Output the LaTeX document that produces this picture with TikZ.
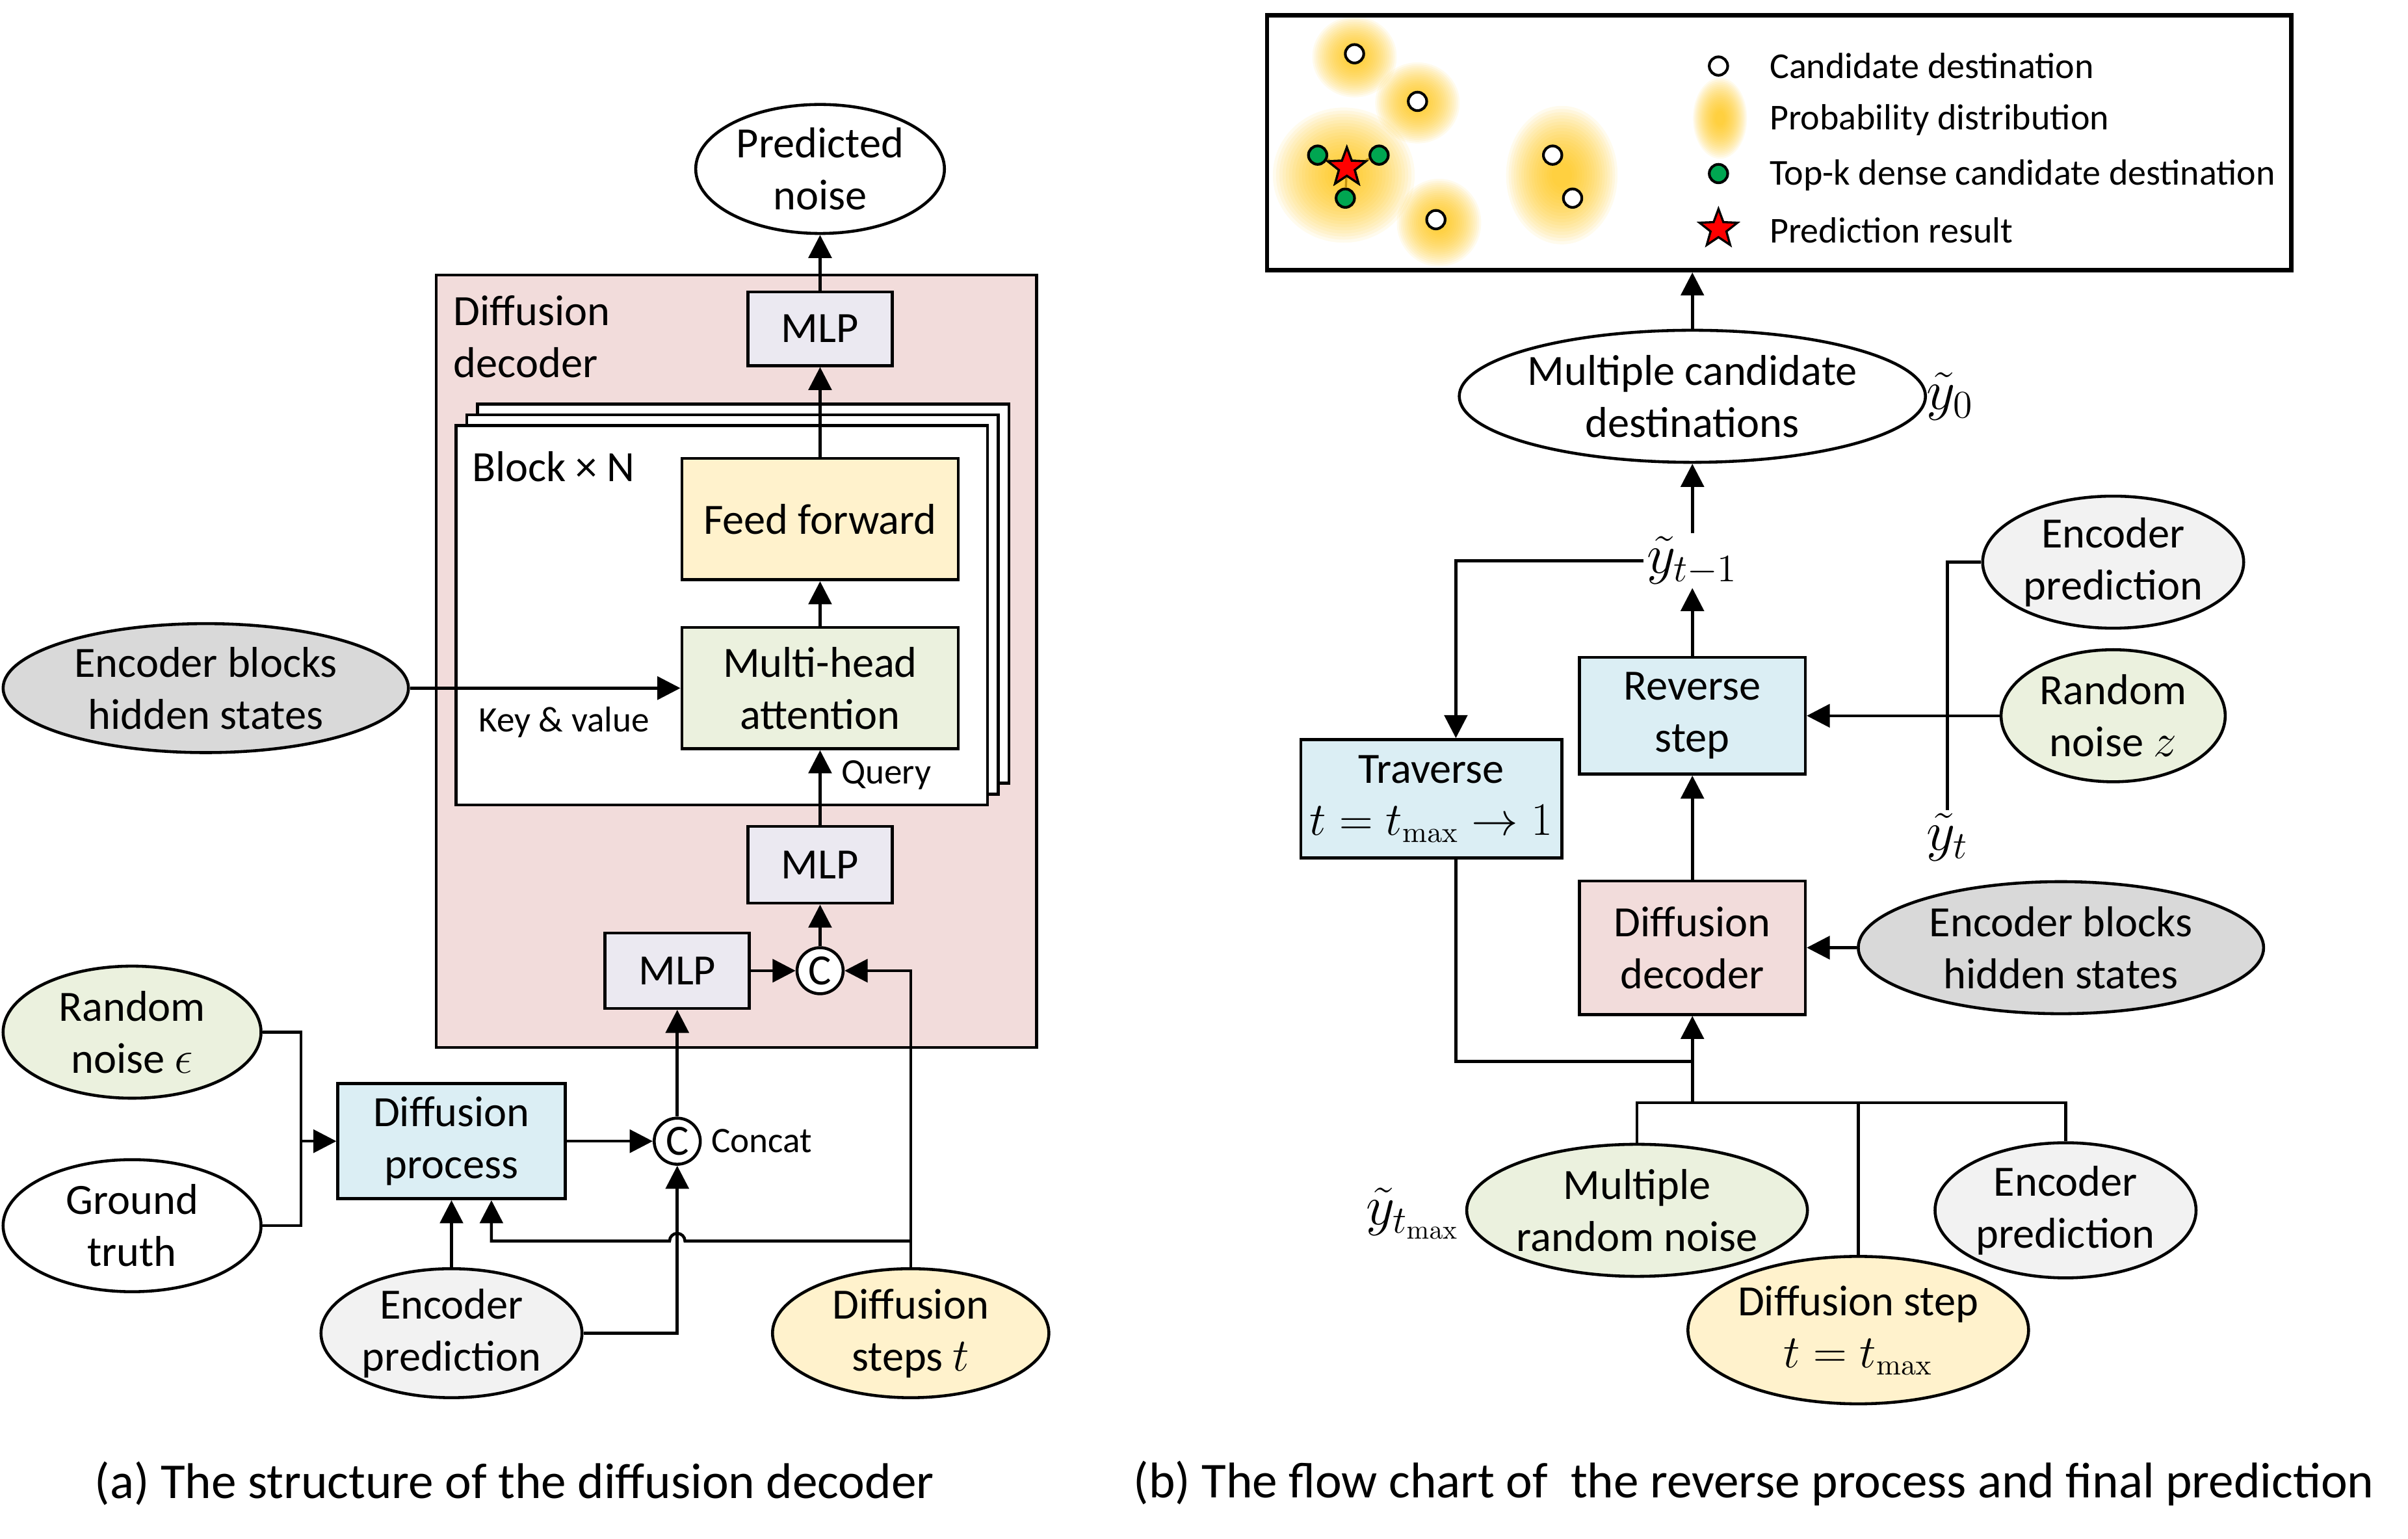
\documentclass[tikz,border=0pt]{standalone}
\usepackage[no-math]{fontspec}
\setmainfont{Carlito}
\usetikzlibrary{positioning,shapes.geometric,arrows.meta}

\definecolor{decpink}{HTML}{F2DCDB}
\definecolor{lav}{HTML}{EBE9F1}
\definecolor{ffyel}{HTML}{FFF2CC}
\definecolor{grn}{HTML}{EBF1DE}
\definecolor{blu}{HTML}{DBEEF4}
\definecolor{gry}{HTML}{D9D9D9}
\definecolor{ltgry}{HTML}{F2F2F2}
\definecolor{blobcol}{HTML}{FFC000}
\definecolor{dotgreen}{HTML}{00A651}
\definecolor{linkcol}{HTML}{C0900F}

\tikzset{
  base/.style={draw, line width=1.1pt, align=center, inner sep=0pt},
  blk/.style={base, rectangle},
  ell/.style={base, ellipse},
  arr/.style={line width=1.1pt, -{Triangle[length=0.3cm,width=0.3cm]}},
  wire/.style={line width=1.1pt},
  cat/.style={circle, draw, line width=1.1pt, fill=white, minimum size=0.6cm, inner sep=0pt},
  lbl/.style={font=\fontsize{13.3}{16}\selectfont},
  leg/.style={font=\fontsize{13.5}{16}\selectfont, anchor=west, inner sep=0pt},
  mathlbl/.style={font=\fontsize{20}{24}\selectfont, inner sep=1pt},
  capt/.style={font=\fontsize{18.6}{22}\selectfont},
  wdot/.style={circle, draw, line width=1pt, fill=white, minimum size=0.24cm, inner sep=0pt},
  gdot/.style={wdot, fill=dotgreen},
  rstar/.style={star, star points=5, star point ratio=2.4, draw, line width=0.8pt, fill=red, minimum size=0.52cm, inner sep=0pt}
}

\begin{document}
\begin{tikzpicture}[x=0.02cm, y=-0.02cm, font=\fontsize{16}{19.3}\selectfont]
\useasboundingbox (0,0) rectangle (1568,1002);

% (a) diffusion decoder
\node[blk, fill=decpink, minimum width=7.82cm, minimum height=10.06cm] (dec) at (479.5,430.5) {};
\node[anchor=north west, align=left, inner sep=0pt] (declbl) at (295,192) {Diffusion\\decoder};

% stacked blocks
\foreach \d in {14,7}
  \draw[line width=1.1pt, fill=white] (297+\d,277-\d) rectangle (643+\d,524-\d);
\node[blk, fill=white, minimum width=6.92cm, minimum height=4.94cm] (stack) at (470,400.5) {};
\node[anchor=west, inner sep=0pt] (blkn) at (307,304) {Block × N};

\node[blk, fill=ffyel, minimum width=3.6cm, minimum height=1.58cm] (ff) at (534,338) {Feed forward};
\node[blk, fill=grn, minimum width=3.6cm, minimum height=1.58cm] (mha) at (534,448) {Multi-head\\attention};
\node[blk, fill=lav, minimum width=1.88cm, minimum height=0.96cm] (mlp3) at (534,214) {MLP};
\node[ell, fill=white, minimum width=3.24cm, minimum height=1.68cm] (pnoise) at (534,110) {Predicted\\noise};
\node[blk, fill=lav, minimum width=1.88cm, minimum height=1cm] (mlp2) at (534,563) {MLP};
\node[blk, fill=lav, minimum width=1.88cm, minimum height=0.98cm] (mlp1) at (441,632) {MLP};
\node[cat] (cat2) at (534,632) {C};
\node[cat] (cat1) at (441,743) {C};
\node[lbl, anchor=west] (catlbl) at (cat1.east) {Concat};

\node[ell, fill=gry, minimum width=5.28cm, minimum height=1.68cm] (ehsA) at (134,448) {Encoder blocks\\hidden states};
\node[blk, fill=blu, minimum width=2.96cm, minimum height=1.5cm] (dproc) at (294,743) {Diffusion\\process};
\node[ell, fill=grn, minimum width=3.36cm, minimum height=1.72cm] (rnoise) at (86,672) {Random\\noise $\epsilon$};
\node[ell, fill=white, minimum width=3.36cm, minimum height=1.72cm] (gtruth) at (86,798) {Ground\\truth};
\node[ell, fill=ltgry, minimum width=3.4cm, minimum height=1.68cm] (encpA) at (294,868) {Encoder\\prediction};
\node[ell, fill=ffyel, minimum width=3.6cm, minimum height=1.68cm] (dsteps) at (593,868) {Diffusion\\steps $t$};

\draw[arr] (mlp3) -- (pnoise);
\draw[arr] (ff) -- (mlp3);
\draw[arr] (mha) -- (ff);
\draw[arr] (mlp2) -- node[lbl, right=4pt, pos=0.67] {Query} (mha);
\draw[arr] (ehsA) -- node[lbl, below=3pt, pos=0.57] {Key \& value} (mha);
\draw[arr] (cat2) -- (mlp2);
\draw[arr] (mlp1) -- (cat2);
\draw[arr] (cat1) -- (mlp1);
\draw[arr] (dproc) -- (cat1);
\draw[arr] (encpA) -- (dproc);
\draw[arr] (encpA.east) -| (cat1.south);
\coordinate (mg) at (196,743);
\draw[wire] (rnoise.east) -| (mg) |- (gtruth.east);
\draw[arr] (mg) -- (dproc);
\draw[arr] (dsteps.north) |- (cat2.east);
\coordinate (tj) at (593,808);
\draw[arr] (tj) -- (446,808) arc[start angle=0, end angle=180, radius=0.1cm]
  -| ([xshift=0.52cm]dproc.south);

% (b) reverse process
\foreach \cx/\cy/\rx/\ry in {882/37/25/24, 923/67/25/24, 875/114/42/40, 937/145/25/26, 1017/114/33/41, 1120/77/16/24}
  \foreach \s in {1.1,1.05,...,0.15}
    \fill[blobcol, opacity=0.07] (\cx,\cy) ellipse ({\s*\rx} and {\s*\ry});
\node[draw, line width=1.6pt, minimum width=13.34cm, minimum height=3.32cm] (res) at (1158.5,93) {};
\node[wdot] (c1) at (882,35) {};
\node[wdot] (c2) at (923,66) {};
\node[wdot] (c3) at (1011,101) {};
\node[wdot] (c4) at (1024,129) {};
\node[wdot] (c5) at (935,143) {};
\node[gdot] (g1) at (858,101) {};
\node[gdot] (g2) at (898,101) {};
\node[gdot] (g3) at (876,129) {};
\node[rstar] (best) at (877,109) {};
\foreach \g in {g1,g2,g3}
  \draw[linkcol, line width=0.8pt] (\g) -- (best);
\node[rstar] (best) at (877,109) {};
\node[wdot] (lc) at (1119,43) {};
\node[gdot] (lg) at (1119,113) {};
\node[rstar] (ls) at (1119,149) {};
\node[leg] (t1) at (1152,43) {Candidate destination};
\node[leg] (t2) at (1152,78) {Probability distribution};
\node[leg] (t3) at (1152,114) {Top-k dense candidate destination};
\node[leg] (t4) at (1152,150) {Prediction result};

\node[ell, fill=white, minimum width=5.88cm, minimum height=1.72cm] (mcd) at (1102,258) {Multiple candidate\\destinations};
\node[mathlbl] (yz) at (1270,258) {$\tilde{y}_0$};
\node[mathlbl] (yt1) at (1102,365) {$\tilde{y}_{t-1}$};
\node[blk, fill=blu, minimum width=2.94cm, minimum height=1.52cm] (rstep) at (1102,466) {Reverse\\step};
\node[blk, fill=blu, minimum width=3.4cm, minimum height=1.54cm] (trav) at (932,520) {Traverse\\$t=t_{\max}\to 1$};
\node[blk, fill=decpink, minimum width=2.94cm, minimum height=1.74cm] (ddec) at (1102,617) {Diffusion\\decoder};
\node[ell, fill=gry, minimum width=5.28cm, minimum height=1.72cm] (ehsB) at (1342,617) {Encoder blocks\\hidden states};
\node[ell, fill=ltgry, minimum width=3.4cm, minimum height=1.72cm] (encpB) at (1376,366) {Encoder\\prediction};
\node[ell, fill=grn, minimum width=2.92cm, minimum height=1.72cm] (rnz) at (1376,466) {Random\\noise $z$};
\node[mathlbl] (yt) at (1268,545) {$\tilde{y}_t$};
\node[ell, fill=grn, minimum width=4.36cm, minimum height=1.72cm] (mrn) at (1066,788) {Multiple\\random noise};
\node[mathlbl] (ytm) at (920,790) {$\tilde{y}_{t_{\max}}$};
\node[ell, fill=ltgry, minimum width=3.4cm, minimum height=1.76cm] (encpC) at (1345,788) {Encoder\\prediction};
\node[ell, fill=ffyel, minimum width=4.36cm, minimum height=1.92cm] (dstep) at (1210,866) {Diffusion step\\$t=t_{\max}$};

\draw[arr] (mcd) -- (mcd |- res.south);
\draw[arr] (yt1) -- (mcd);
\draw[arr] (rstep) -- (yt1);
\draw[arr] (yt1.west) -| ([xshift=0.32cm]trav.north);
\draw[arr] (ddec) -- (rstep);
\draw[arr] (rnz) -- (rstep);
\draw[arr] (ehsB) -- (ddec);
\draw[wire] (encpB.west) -| (yt.north);
\coordinate (lp) at (1102,691);
\coordinate (hub) at (1102,718);
\draw[wire] ([xshift=0.32cm]trav.south) |- (lp);
\draw[arr] (hub) -- (ddec);
\draw[wire] (mrn.north) |- (hub) -| (encpC.north);
\draw[wire] (dstep.north) -- (dstep.north |- hub);

% captions
\node[capt] (capA) at (335,966) {(a) The structure of the diffusion decoder};
\node[capt] (capB) at (1142,966) {(b) The flow chart of~ the reverse process and final prediction};
\end{tikzpicture}
\end{document}
